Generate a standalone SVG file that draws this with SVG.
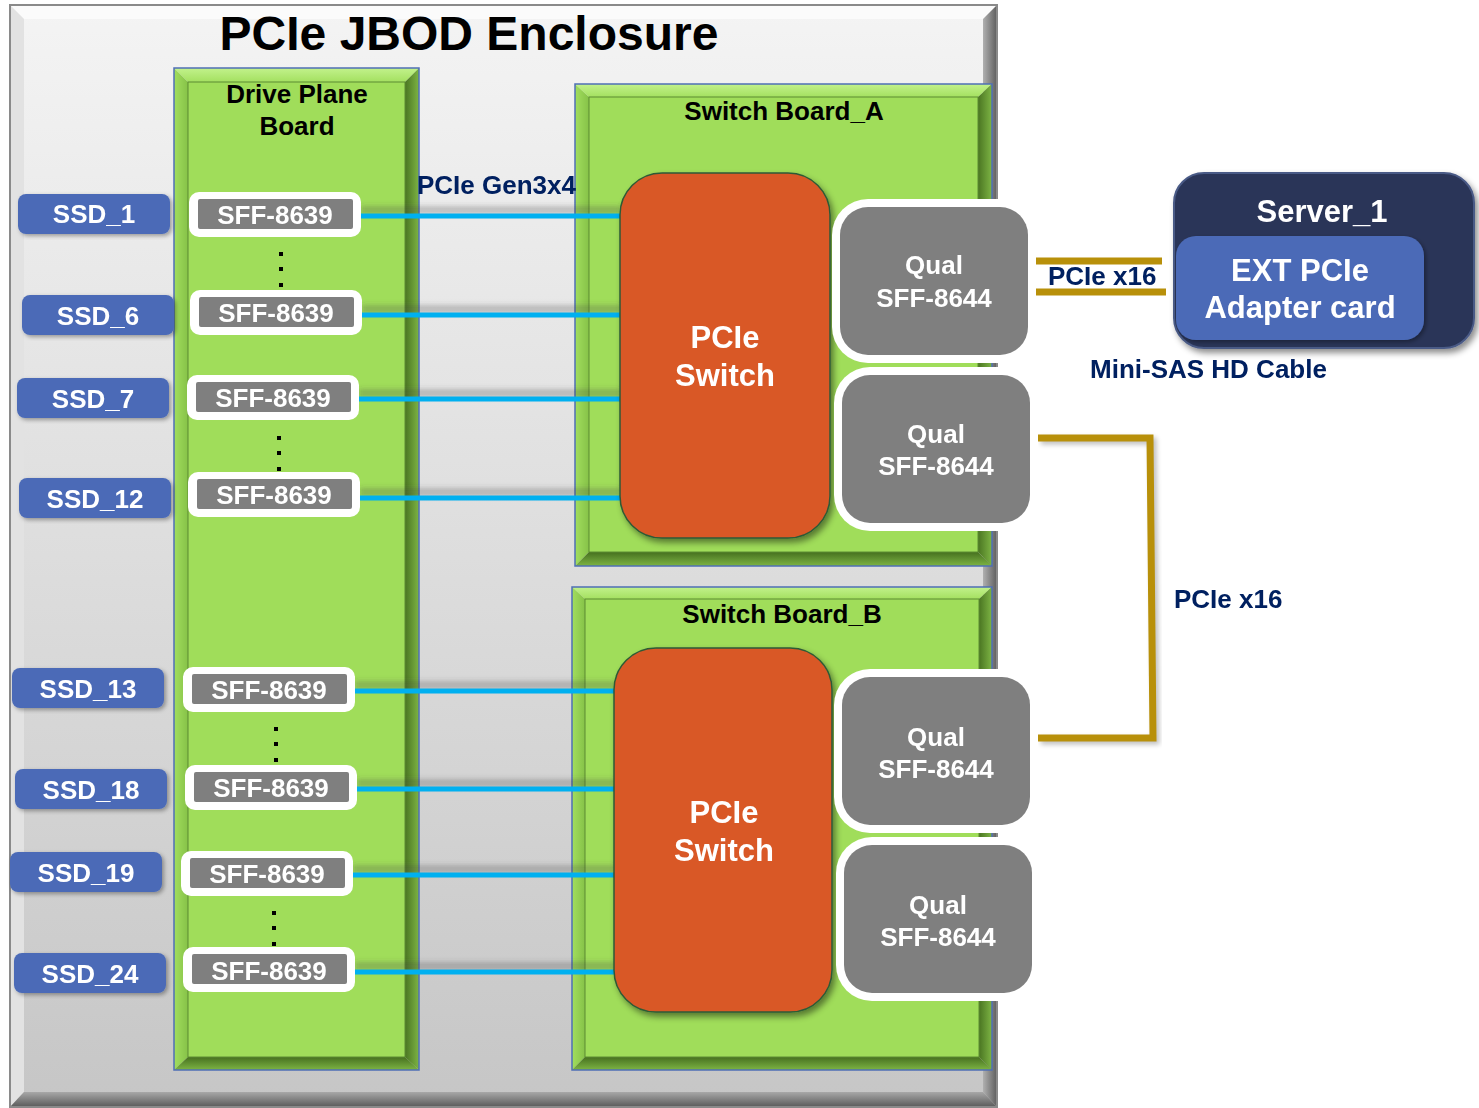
<svg xmlns="http://www.w3.org/2000/svg" width="1479" height="1108" viewBox="0 0 1479 1108">
<defs>
<style>
.t{font-family:'Liberation Sans',Arial,sans-serif;font-weight:bold;}
.w{fill:#ffffff}
.k{fill:#000000}
.n{fill:#002060}
.s24{font-size:26px}
.s31{font-size:31px}
.ssd{fill:#4b6bb7}
.wo{fill:#ffffff}
.gi{fill:#7f7f7f}
.blue{stroke:#00b0f0;stroke-width:5;fill:none}
.bsh{stroke:#404040;stroke-width:8;fill:none;opacity:0.28}
.gold{stroke:#b8900a;stroke-width:7;fill:none}
.bt{fill:url(#gbt)}
.bl{fill:url(#gbl)}
.br{fill:url(#gbr)}
.bb{fill:url(#gbb)}
.face{fill:#a0dd5a;stroke:#5d8c33;stroke-width:1}
.outl{fill:none;stroke:#4f6fb5;stroke-width:1.5}
</style>
<linearGradient id="gbt" x1="0" y1="0" x2="0" y2="1"><stop offset="0" stop-color="#c2f28c"/><stop offset="1" stop-color="#a4e060"/></linearGradient>
<linearGradient id="gbl" x1="0" y1="0" x2="1" y2="0"><stop offset="0" stop-color="#a2de5e"/><stop offset="1" stop-color="#86c248"/></linearGradient>
<linearGradient id="gbr" x1="0" y1="0" x2="1" y2="0"><stop offset="0" stop-color="#4a7522"/><stop offset="1" stop-color="#7db444"/></linearGradient>
<linearGradient id="gbb" x1="0" y1="0" x2="0" y2="1"><stop offset="0" stop-color="#46701f"/><stop offset="1" stop-color="#7db444"/></linearGradient>
<linearGradient id="encg" x1="0" y1="0" x2="0" y2="1">
<stop offset="0" stop-color="#f4f4f4"/>
<stop offset="1" stop-color="#c6c6c6"/>
</linearGradient>
<linearGradient id="encr" x1="0" y1="0" x2="1" y2="0">
<stop offset="0" stop-color="#b0b0b0"/>
<stop offset="1" stop-color="#5e5e5e"/>
</linearGradient>
<linearGradient id="encb" x1="0" y1="0" x2="0" y2="1">
<stop offset="0" stop-color="#a8a8a8"/>
<stop offset="1" stop-color="#5a5a5a"/>
</linearGradient>
<filter id="blur" x="-5%" y="-100%" width="110%" height="300%"><feGaussianBlur stdDeviation="2.5"/></filter>
<filter id="ds" x="-10%" y="-10%" width="125%" height="125%"><feDropShadow dx="2" dy="2" stdDeviation="2" flood-color="#000" flood-opacity="0.35"/></filter>
<filter id="ds2" x="-10%" y="-10%" width="125%" height="125%"><feDropShadow dx="3" dy="4" stdDeviation="3" flood-color="#000" flood-opacity="0.45"/></filter>
</defs>

<!-- Enclosure -->
<g id="enclosure">
<rect x="10" y="5" width="987" height="1102" fill="url(#encg)"/>
<polygon points="10,5 997,5 983,19 24,19" fill="#fbfbfb"/>
<polygon points="10,5 24,19 24,1092 10,1107" fill="#e2e2e2"/>
<polygon points="997,5 997,1107 983,1092 983,19" fill="url(#encr)"/>
<polygon points="10,1107 997,1107 983,1092 24,1092" fill="url(#encb)"/>
<rect x="10" y="5" width="987" height="1102" fill="none" stroke="#8a8a8a" stroke-width="2"/>
<text class="t k" x="469" y="50" font-size="48" text-anchor="middle">PCIe JBOD Enclosure</text>
</g>

<!-- Drive plane board -->
<g id="drive-plane-board">
<polygon class="bt" points="174,68 419,68 405,82 188,82"/>
<polygon class="bl" points="174,68 188,82 188,1057 174,1070"/>
<polygon class="br" points="419,68 419,1070 405,1057 405,82"/>
<polygon class="bb" points="174,1070 419,1070 405,1057 188,1057"/>
<rect class="face" x="188" y="82" width="217" height="975"/>
<rect class="outl" x="174" y="68" width="245" height="1002"/>
<text class="t k s24" x="297" y="103" text-anchor="middle">Drive Plane</text>
<text class="t k s24" x="297" y="135" text-anchor="middle">Board</text>
<g class="k">
<rect x="279" y="252" width="4" height="4"/><rect x="279" y="267" width="4" height="4"/><rect x="279" y="283" width="4" height="4"/>
<rect x="277" y="436" width="4" height="4"/><rect x="277" y="451" width="4" height="4"/><rect x="277" y="467" width="4" height="4"/>
<rect x="274" y="727" width="4" height="4"/><rect x="274" y="742" width="4" height="4"/><rect x="274" y="758" width="4" height="4"/>
<rect x="272" y="911" width="4" height="4"/><rect x="272" y="926" width="4" height="4"/><rect x="272" y="942" width="4" height="4"/>
</g>
</g>

<!-- Switch Board A -->
<g id="switch-board-a">
<polygon class="bt" points="575,84 992,84 978,97 589,97"/>
<polygon class="bl" points="575,84 589,97 589,552 575,566"/>
<polygon class="br" points="992,84 992,566 978,552 978,97"/>
<polygon class="bb" points="575,566 992,566 978,552 589,552"/>
<rect class="face" x="589" y="97" width="389" height="455"/>
<rect class="outl" x="575" y="84" width="417" height="482"/>
<text class="t k s24" x="784" y="120" text-anchor="middle">Switch Board_A</text>
</g>

<!-- Switch Board B -->
<g id="switch-board-b">
<polygon class="bt" points="572,587 992,587 979,599 585,599"/>
<polygon class="bl" points="572,587 585,599 585,1057 572,1070"/>
<polygon class="br" points="992,587 992,1070 979,1057 979,599"/>
<polygon class="bb" points="572,1070 992,1070 979,1057 585,1057"/>
<rect class="face" x="585" y="599" width="394" height="458"/>
<rect class="outl" x="572" y="587" width="420" height="483"/>
<text class="t k s24" x="782" y="623" text-anchor="middle">Switch Board_B</text>
</g>

<!-- Connectors -->
<g id="connectors">
<g filter="url(#blur)">
<line class="bsh" x1="361" y1="210" x2="621" y2="210"/>
<line class="bsh" x1="362" y1="309" x2="621" y2="309"/>
<line class="bsh" x1="359" y1="393" x2="621" y2="393"/>
<line class="bsh" x1="360" y1="492" x2="621" y2="492"/>
<line class="bsh" x1="355" y1="685" x2="615" y2="685"/>
<line class="bsh" x1="357" y1="783" x2="615" y2="783"/>
<line class="bsh" x1="353" y1="869" x2="615" y2="869"/>
<line class="bsh" x1="355" y1="966" x2="615" y2="966"/>
</g>
<line class="blue" x1="359" y1="216" x2="622" y2="216"/>
<line class="blue" x1="360" y1="315" x2="622" y2="315"/>
<line class="blue" x1="357" y1="399" x2="622" y2="399"/>
<line class="blue" x1="358" y1="498" x2="622" y2="498"/>
<line class="blue" x1="353" y1="691" x2="616" y2="691"/>
<line class="blue" x1="355" y1="789" x2="616" y2="789"/>
<line class="blue" x1="351" y1="875" x2="616" y2="875"/>
<line class="blue" x1="353" y1="972" x2="616" y2="972"/>
<text class="t n s24" x="417" y="194">PCIe Gen3x4</text>
<line class="gold" x1="1036" y1="261" x2="1162" y2="261"/>
<line class="gold" x1="1032" y1="292" x2="1166" y2="292"/>
<text class="t n s24" x="1048" y="285">PCIe x16</text>
<polyline points="1041,441 1153,441 1156,741 1041,741" fill="none" stroke="#000" stroke-width="7" opacity="0.25" filter="url(#blur)"/>
<polyline class="gold" points="1038,438 1150,438 1153,738 1038,738"/>
<text class="t n s24" x="1174" y="608">PCIe x16</text>
<text class="t n s24" x="1090" y="378">Mini-SAS HD Cable</text>
</g>

<!-- SSD labels -->
<g id="ssd-1" filter="url(#ds)"><rect class="ssd" x="18" y="194" width="152" height="40" rx="8"/><text class="t w s24" x="94" y="223" text-anchor="middle">SSD_1</text></g>
<g id="ssd-6" filter="url(#ds)"><rect class="ssd" x="22" y="295" width="152" height="40" rx="8"/><text class="t w s24" x="98" y="325" text-anchor="middle">SSD_6</text></g>
<g id="ssd-7" filter="url(#ds)"><rect class="ssd" x="17" y="378" width="152" height="40" rx="8"/><text class="t w s24" x="93" y="408" text-anchor="middle">SSD_7</text></g>
<g id="ssd-12" filter="url(#ds)"><rect class="ssd" x="19" y="478" width="152" height="40" rx="8"/><text class="t w s24" x="95" y="508" text-anchor="middle">SSD_12</text></g>
<g id="ssd-13" filter="url(#ds)"><rect class="ssd" x="12" y="668" width="152" height="40" rx="8"/><text class="t w s24" x="88" y="698" text-anchor="middle">SSD_13</text></g>
<g id="ssd-18" filter="url(#ds)"><rect class="ssd" x="15" y="769" width="152" height="40" rx="8"/><text class="t w s24" x="91" y="799" text-anchor="middle">SSD_18</text></g>
<g id="ssd-19" filter="url(#ds)"><rect class="ssd" x="10" y="852" width="152" height="40" rx="8"/><text class="t w s24" x="86" y="882" text-anchor="middle">SSD_19</text></g>
<g id="ssd-24" filter="url(#ds)"><rect class="ssd" x="14" y="953" width="152" height="40" rx="8"/><text class="t w s24" x="90" y="983" text-anchor="middle">SSD_24</text></g>

<!-- SFF-8639 ports -->
<g id="port-1"><rect class="wo" x="189" y="192" width="172" height="45" rx="10"/><rect class="gi" x="198" y="199" width="155" height="30" rx="2"/><text class="t w s24" x="275" y="224" text-anchor="middle">SFF-8639</text></g>
<g id="port-6"><rect class="wo" x="190" y="290" width="172" height="45" rx="10"/><rect class="gi" x="199" y="297" width="155" height="30" rx="2"/><text class="t w s24" x="276" y="322" text-anchor="middle">SFF-8639</text></g>
<g id="port-7"><rect class="wo" x="187" y="375" width="172" height="45" rx="10"/><rect class="gi" x="196" y="382" width="155" height="30" rx="2"/><text class="t w s24" x="273" y="407" text-anchor="middle">SFF-8639</text></g>
<g id="port-12"><rect class="wo" x="188" y="472" width="172" height="45" rx="10"/><rect class="gi" x="197" y="479" width="155" height="30" rx="2"/><text class="t w s24" x="274" y="504" text-anchor="middle">SFF-8639</text></g>
<g id="port-13"><rect class="wo" x="183" y="667" width="172" height="45" rx="10"/><rect class="gi" x="192" y="674" width="155" height="30" rx="2"/><text class="t w s24" x="269" y="699" text-anchor="middle">SFF-8639</text></g>
<g id="port-18"><rect class="wo" x="185" y="765" width="172" height="45" rx="10"/><rect class="gi" x="194" y="772" width="155" height="30" rx="2"/><text class="t w s24" x="271" y="797" text-anchor="middle">SFF-8639</text></g>
<g id="port-19"><rect class="wo" x="181" y="851" width="172" height="45" rx="10"/><rect class="gi" x="190" y="858" width="155" height="30" rx="2"/><text class="t w s24" x="267" y="883" text-anchor="middle">SFF-8639</text></g>
<g id="port-24"><rect class="wo" x="183" y="947" width="172" height="45" rx="10"/><rect class="gi" x="192" y="954" width="155" height="30" rx="2"/><text class="t w s24" x="269" y="980" text-anchor="middle">SFF-8639</text></g>

<!-- PCIe switches -->
<g id="pcie-switch-a">
<rect x="620" y="173" width="210" height="365" rx="42" fill="#d95926" stroke="#2f5a36" stroke-width="1.5" filter="url(#ds2)"/>
<text class="t w s31" x="725" y="348" text-anchor="middle">PCIe</text>
<text class="t w s31" x="725" y="386" text-anchor="middle">Switch</text>
</g>
<g id="pcie-switch-b">
<rect x="614" y="648" width="218" height="364" rx="42" fill="#d95926" stroke="#2f5a36" stroke-width="1.5" filter="url(#ds2)"/>
<text class="t w s31" x="724" y="823" text-anchor="middle">PCIe</text>
<text class="t w s31" x="724" y="861" text-anchor="middle">Switch</text>
</g>

<!-- Qual SFF-8644 ports -->
<g id="qual-a1"><rect class="wo" x="832" y="199" width="204" height="164" rx="36"/><rect class="gi" x="840" y="207" width="188" height="148" rx="28"/><text class="t w s24" x="934" y="274" text-anchor="middle">Qual</text><text class="t w s24" x="934" y="307" text-anchor="middle">SFF-8644</text></g>
<g id="qual-a2"><rect class="wo" x="834" y="367" width="204" height="164" rx="36"/><rect class="gi" x="842" y="375" width="188" height="148" rx="28"/><text class="t w s24" x="936" y="443" text-anchor="middle">Qual</text><text class="t w s24" x="936" y="475" text-anchor="middle">SFF-8644</text></g>
<g id="qual-b1"><rect class="wo" x="834" y="669" width="204" height="164" rx="36"/><rect class="gi" x="842" y="677" width="188" height="148" rx="28"/><text class="t w s24" x="936" y="746" text-anchor="middle">Qual</text><text class="t w s24" x="936" y="778" text-anchor="middle">SFF-8644</text></g>
<g id="qual-b2"><rect class="wo" x="836" y="837" width="204" height="164" rx="36"/><rect class="gi" x="844" y="845" width="188" height="148" rx="28"/><text class="t w s24" x="938" y="914" text-anchor="middle">Qual</text><text class="t w s24" x="938" y="946" text-anchor="middle">SFF-8644</text></g>

<!-- Server -->
<g id="server-1">
<rect x="1174" y="173" width="300" height="175" rx="30" fill="#2a3659" stroke="#4a5a86" stroke-width="2" filter="url(#ds2)"/>
<text class="t w s31" x="1322" y="222" text-anchor="middle">Server_1</text>
</g>
<g id="ext-pcie-adapter">
<rect x="1176" y="236" width="248" height="104" rx="20" fill="#4b6bb7" filter="url(#ds)"/>
<text class="t w s31" x="1300" y="281" text-anchor="middle">EXT PCIe</text>
<text class="t w s31" x="1300" y="318" text-anchor="middle">Adapter card</text>
</g>
</svg>
